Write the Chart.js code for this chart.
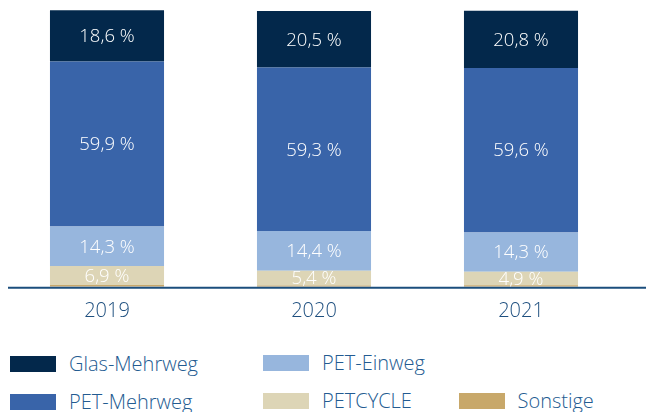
<!DOCTYPE html>
<html>
<head>
<meta charset="utf-8">
<script src="https://cdn.jsdelivr.net/npm/chart.js@4"></script>
<style>
  body { margin: 0; background: #fff; }
  #wrap { position: relative; width: 646px; height: 412px; }
  #chart { position: absolute; left: 0; top: 0; }
  .lg { position: absolute; font-family: "Open Sans", sans-serif; font-weight: 350; font-size: 20px; color: #235b91; }
  .lg .box { position: absolute; left: 0; top: 0; width: 46px; height: 16px; }
  .lg .txt { position: absolute; left: 59px; top: -6px; white-space: nowrap; line-height: 28px; }
</style>
</head>
<body>
<div id="wrap">
  <canvas id="chart" width="646" height="340"></canvas>
</div>
<script>
"use strict";

const years = ["2019", "2020", "2021"];
const glasMehrweg = [18.6, 20.5, 20.8];
const petMehrweg = [59.9, 59.3, 59.6];
const petEinweg = [14.3, 14.4, 14.3];
const petcycle = [6.9, 5.4, 4.9];
const sonstige = [0.6, 0.4, 0.5];

const seriesNames = ["Sonstige", "PETCYCLE", "PET-Einweg", "PET-Mehrweg", "Glas-Mehrweg"];
const seriesValues = [sonstige, petcycle, petEinweg, petMehrweg, glasMehrweg];
const seriesColors = ["#c8a86a", "#ddd5b6", "#97b6dd", "#3964a9", "#03284b"];

const fmt = (v) => v.toFixed(1).replace(".", ",") + " %";

// value labels in the middle of each segment
const segmentLabels = {
    id: "segmentLabels",
    afterDatasetsDraw(chart) {
        const ctx = chart.ctx;
        ctx.save();
        ctx.font = '330 18.5px "Open Sans"';
        ctx.fillStyle = "#ffffff";
        ctx.textAlign = "center";
        ctx.textBaseline = "middle";
        chart.data.datasets.forEach((ds, i) => {
            if (ds.label === "Sonstige") return;
            chart.getDatasetMeta(i).data.forEach((bar, j) => {
                ctx.fillText(fmt(ds.data[j]), bar.x, (bar.y + bar.base) / 2 + 1);
            });
        });
        ctx.restore();
    }
};

// baseline across the full width
const baseLine = {
    id: "baseLine",
    afterDatasetsDraw(chart) {
        const ctx = chart.ctx;
        const y = chart.scales.y.getPixelForValue(0) + 1;
        ctx.save();
        ctx.strokeStyle = "#1b4e7d";
        ctx.lineWidth = 2;
        ctx.beginPath();
        ctx.moveTo(8, y);
        ctx.lineTo(646, y);
        ctx.stroke();
        ctx.restore();
    }
};

new Chart(document.getElementById("chart"), {
    type: "bar",
    data: {
        labels: years,
        datasets: seriesNames.map((name, i) => ({
            label: name,
            data: seriesValues[i],
            backgroundColor: seriesColors[i],
            borderWidth: 0,
            barPercentage: 0.551,
            categoryPercentage: 1
        }))
    },
    options: {
        responsive: false,
        animation: false,
        layout: { padding: { top: 9.6, left: 3.5, right: 21.5, bottom: 0 } },
        plugins: { legend: { display: false }, tooltip: { enabled: false } },
        scales: {
            x: {
                stacked: true,
                grid: { display: false, drawTicks: false },
                border: { display: false },
                ticks: { color: "#1e4f7f", font: { family: "Open Sans", size: 20, weight: 350 }, padding: 13 },
                afterFit: (axis) => { axis.height = 53.3; }
            },
            y: { stacked: true, display: false, min: 0, max: 100.5 }
        }
    },
    plugins: [segmentLabels, baseLine]
});

// legend, laid out like the original (two rows, three columns)
const legendSpots = {
    "Glas-Mehrweg": [10, 356],
    "PET-Mehrweg": [10, 394],
    "PET-Einweg": [263, 354.5],
    "PETCYCLE": [263, 392.5],
    "Sonstige": [458.5, 393]
};
const wrap = document.getElementById("wrap");
seriesNames.forEach((name, i) => {
    const [x, y] = legendSpots[name];
    const item = document.createElement("div");
    item.className = "lg";
    item.style.left = x + "px";
    item.style.top = y + "px";
    item.innerHTML = `<div class="box" style="background:${seriesColors[i]}"></div><div class="txt">${name}</div>`;
    wrap.appendChild(item);
});
</script>
</body>
</html>
